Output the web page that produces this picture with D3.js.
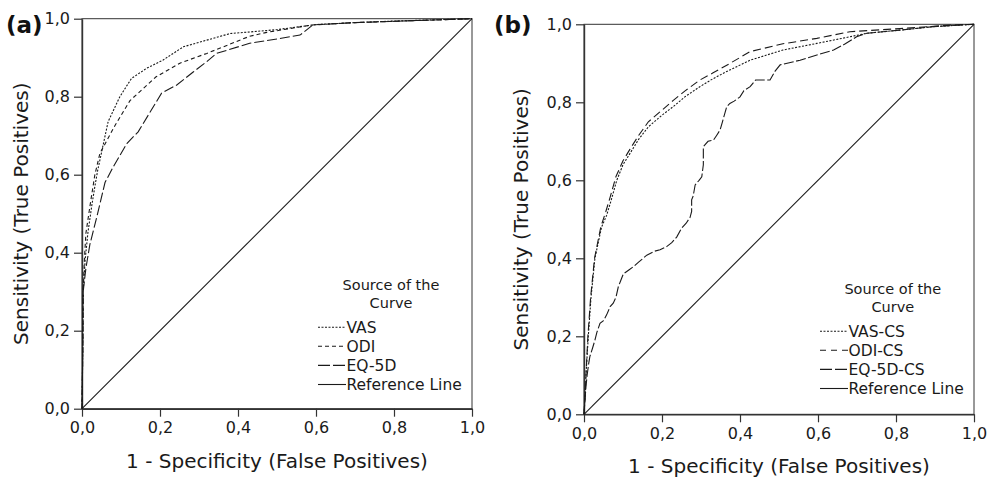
<!DOCTYPE html>
<html>
<head>
<meta charset="utf-8">
<script src="https://cdn.jsdelivr.net/npm/d3@7"></script>
<style>
  body { margin: 0; background: #fff; }
  svg { display: block; font-family: "DejaVu Sans", sans-serif; }
</style>
</head>
<body>
<script>
// ROC curves, two panels (a) and (b)

const tickValues = [0, 0.2, 0.4, 0.6, 0.8, 1.0];
const tickLabels = ["0,0", "0,2", "0,4", "0,6", "0,8", "1,0"];

const refLine = [[0, 0], [1, 1]];

// panel (a)
const vasA = [[0, 0], [0.002, 0.15], [0.003, 0.3], [0.008, 0.38], [0.015, 0.45], [0.025, 0.52], [0.033, 0.57],
  [0.04, 0.61], [0.067, 0.736], [0.097, 0.8], [0.127, 0.847], [0.166, 0.873], [0.208, 0.894],
  [0.26, 0.928], [0.32, 0.945], [0.38, 0.962], [0.43, 0.966], [0.5, 0.972], [0.6, 0.985],
  [0.7, 0.99], [0.8, 0.994], [0.9, 0.997], [1, 1]];
const odiA = [[0, 0], [0.002, 0.15], [0.003, 0.3], [0.006, 0.38], [0.01, 0.45], [0.022, 0.53], [0.033, 0.6],
  [0.046, 0.655], [0.085, 0.727], [0.123, 0.79], [0.19, 0.851], [0.251, 0.886], [0.32, 0.911],
  [0.43, 0.955], [0.474, 0.965], [0.59, 0.984], [0.7, 0.99], [0.85, 0.995], [1, 1]];
const eq5dA = [[0, 0], [0.002, 0.15], [0.003, 0.3], [0.01, 0.36], [0.02, 0.42], [0.04, 0.5], [0.059, 0.58],
  [0.08, 0.62], [0.115, 0.68], [0.144, 0.71], [0.204, 0.809], [0.243, 0.83], [0.286, 0.864],
  [0.32, 0.89], [0.345, 0.911], [0.43, 0.937], [0.5, 0.948], [0.559, 0.958], [0.592, 0.984],
  [0.7, 0.99], [0.85, 0.995], [1, 1]];

// panel (b)
const vasB = [[0, 0], [0.003, 0.05], [0.005, 0.1], [0.011, 0.2], [0.018, 0.3], [0.028, 0.4], [0.045, 0.48],
  [0.058, 0.51], [0.07, 0.55], [0.084, 0.6], [0.1, 0.64], [0.118, 0.669], [0.14, 0.705],
  [0.165, 0.737], [0.2, 0.767], [0.229, 0.789], [0.26, 0.815], [0.297, 0.84], [0.33, 0.86],
  [0.366, 0.879], [0.426, 0.908], [0.51, 0.934], [0.597, 0.951], [0.682, 0.968], [0.725, 0.977],
  [0.81, 0.985], [0.896, 0.994], [1, 1]];
const odiB = [[0, 0], [0.003, 0.05], [0.005, 0.1], [0.01, 0.2], [0.017, 0.3], [0.027, 0.4], [0.043, 0.48],
  [0.056, 0.52], [0.068, 0.56], [0.082, 0.61], [0.1, 0.65], [0.118, 0.68], [0.14, 0.715],
  [0.165, 0.75], [0.2, 0.78], [0.229, 0.805], [0.26, 0.83], [0.297, 0.857], [0.33, 0.875],
  [0.366, 0.895], [0.426, 0.93], [0.51, 0.95], [0.597, 0.964], [0.682, 0.981], [0.81, 0.989],
  [0.94, 0.998], [1, 1]];
const eq5dB = [[0, 0], [0.002, 0.03], [0.005, 0.07], [0.008, 0.1], [0.012, 0.13], [0.015, 0.148],
  [0.022, 0.17], [0.028, 0.19], [0.033, 0.21], [0.041, 0.233], [0.05, 0.24], [0.058, 0.255],
  [0.067, 0.276], [0.075, 0.285], [0.082, 0.3], [0.088, 0.327], [0.095, 0.345], [0.101, 0.36],
  [0.115, 0.37], [0.126, 0.378], [0.14, 0.39], [0.161, 0.408], [0.18, 0.418], [0.195, 0.422],
  [0.212, 0.43], [0.225, 0.44], [0.238, 0.455], [0.25, 0.477], [0.262, 0.49], [0.272, 0.505],
  [0.276, 0.52], [0.276, 0.55], [0.28, 0.56], [0.285, 0.588], [0.295, 0.6], [0.302, 0.609],
  [0.306, 0.64], [0.306, 0.686], [0.318, 0.7], [0.332, 0.703], [0.34, 0.715], [0.349, 0.729],
  [0.355, 0.75], [0.362, 0.775], [0.366, 0.789], [0.374, 0.797], [0.385, 0.803], [0.4, 0.814],
  [0.41, 0.83], [0.426, 0.84], [0.44, 0.857], [0.451, 0.857], [0.477, 0.857], [0.49, 0.88],
  [0.503, 0.896], [0.554, 0.908], [0.6, 0.922], [0.64, 0.934], [0.67, 0.95], [0.699, 0.968],
  [0.725, 0.977], [0.81, 0.985], [0.896, 0.994], [1, 1]];

const seriesNamesA = ["VAS", "ODI", "EQ-5D", "Reference Line"];
const seriesNamesB = ["VAS-CS", "ODI-CS", "EQ-5D-CS", "Reference Line"];

const ink = "#1a1a1a";

const svg = d3.select("body").append("svg")
  .attr("width", 987)
  .attr("height", 480);

function drawPanel(cfg) {
  const size = 390;
  const g = svg.append("g").attr("transform", `translate(${cfg.left},${cfg.top})`);

  const x = d3.scaleLinear().domain([0, 1]).range([0, size]);
  const y = d3.scaleLinear().domain([0, 1]).range([size, 0]);

  // frame
  g.append("rect")
    .attr("width", size).attr("height", size)
    .attr("fill", "none").attr("stroke", "#333").attr("stroke-width", 1);

  const fmt = (d) => tickLabels[tickValues.indexOf(d)];

  const xAxis = g.append("g").attr("transform", `translate(0,${size})`)
    .call(d3.axisBottom(x).tickValues(tickValues).tickFormat(fmt).tickSize(8).tickSizeOuter(0).tickPadding(5));
  const yAxis = g.append("g")
    .call(d3.axisLeft(y).tickValues(tickValues).tickFormat(fmt).tickSize(8).tickSizeOuter(0).tickPadding(4));

  [xAxis, yAxis].forEach((a) => {
    a.select(".domain").attr("stroke", "#333").attr("stroke-width", 1.4);
    a.selectAll(".tick line").attr("stroke", "#333").attr("stroke-width", 1.2);
    a.selectAll(".tick text")
      .attr("fill", ink)
      .style("font-family", "DejaVu Sans, sans-serif")
      .style("font-size", "16px");
  });

  const line = d3.line().x((d) => x(d[0])).y((d) => y(d[1]));

  cfg.series.forEach((s) => {
    g.append("path")
      .datum(s.data)
      .attr("d", line)
      .attr("fill", "none")
      .attr("stroke", ink)
      .attr("stroke-width", 1.1)
      .attr("stroke-dasharray", s.dash);
  });

  // axis titles
  g.append("text")
    .attr("x", size / 2).attr("y", size + cfg.xTitleDy)
    .attr("text-anchor", "middle")
    .attr("fill", ink).style("font-size", "20px")
    .text("1 - Specificity (False Positives)");

  g.append("text")
    .attr("transform", `translate(${cfg.yTitleDx},${size / 2}) rotate(-90)`)
    .attr("text-anchor", "middle")
    .attr("fill", ink).style("font-size", "20px")
    .text("Sensitivity (True Positives)");

  // panel tag
  svg.append("text")
    .attr("x", cfg.tagX).attr("y", 33)
    .attr("fill", "#111").style("font-size", "23px").style("font-weight", "bold")
    .text(cfg.tag);

  // legend
  const lg = g.append("g").attr("transform", `translate(${cfg.legX},${cfg.legY})`);
  lg.append("text").attr("x", cfg.legCenter).attr("y", -2.5)
    .attr("text-anchor", "middle").attr("fill", ink).style("font-size", "14.5px")
    .text("Source of the");
  lg.append("text").attr("x", cfg.legCenter).attr("y", 15)
    .attr("text-anchor", "middle").attr("fill", ink).style("font-size", "14.5px")
    .text("Curve");

  cfg.series.forEach((s, i) => {
    const yy = 40 + i * 19.1;
    lg.append("line")
      .attr("x1", 0).attr("x2", 28)
      .attr("y1", yy - 5.5).attr("y2", yy - 5.5)
      .attr("stroke", ink).attr("stroke-width", 1.1)
      .attr("stroke-dasharray", s.legDash || s.dash);
    lg.append("text").attr("x", 28.5).attr("y", yy)
      .attr("fill", ink).style("font-size", "15.5px")
      .text(s.name);
  });
}

drawPanel({
  left: 82, top: 18.7, tag: "(a)", tagX: 6,
  xTitleDy: 59, yTitleDx: -54,
  legX: 236, legY: 274, legCenter: 73,
  series: [
    { name: seriesNamesA[0], data: vasA, dash: "2,1.5" },
    { name: seriesNamesA[1], data: odiA, dash: "4,3" },
    { name: seriesNamesA[2], data: eq5dA, dash: "10,3", legDash: "12,3" },
    { name: seriesNamesA[3], data: refLine, dash: null }
  ]
});

drawPanel({
  left: 584, top: 24.3, tag: "(b)", tagX: 494,
  xTitleDy: 59, yTitleDx: -56,
  legX: 236, legY: 272.4, legCenter: 72.8,
  series: [
    { name: seriesNamesB[0], data: vasB, dash: "2,1.5" },
    { name: seriesNamesB[1], data: odiB, dash: "8,4", legDash: "6,5" },
    { name: seriesNamesB[2], data: eq5dB, dash: "10,2.5", legDash: "12,3" },
    { name: seriesNamesB[3], data: refLine, dash: null }
  ]
});
</script>
</body>
</html>
